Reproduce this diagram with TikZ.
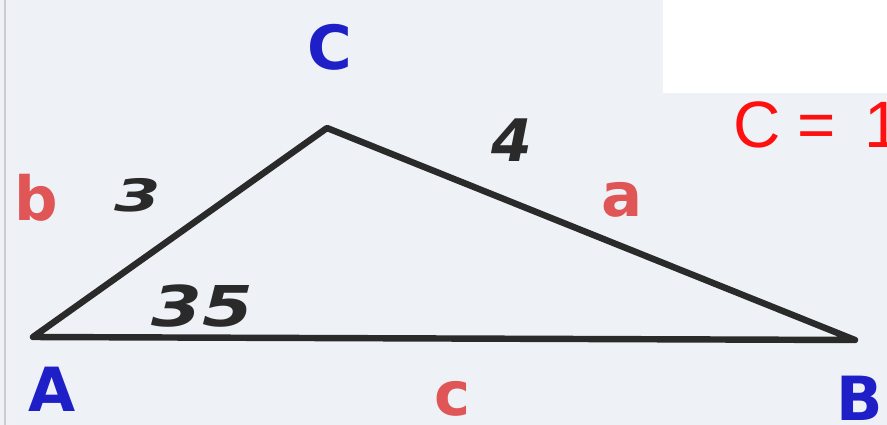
\documentclass[tikz,border=0pt]{standalone}
\usepackage{fontspec}
\setmainfont{DejaVu Sans}
\newfontfamily\handfont{Liberation Sans}
\definecolor{bgc}{HTML}{EEF2F7}
\definecolor{vblue}{HTML}{1F1FC8}
\definecolor{sred}{HTML}{E05555}
\definecolor{ink}{HTML}{2A2A2A}
\definecolor{pen}{HTML}{FF1010}
\begin{document}
\begin{tikzpicture}[x=0.03cm,y=-0.03cm,
  vertexlbl/.style={text=vblue,font=\fontsize{52}{52}\selectfont\bfseries,inner sep=0pt},
  sidelbl/.style={text=sred,font=\fontsize{52}{52}\selectfont\bfseries,inner sep=0pt},
  numlbl/.style={text=ink,inner sep=0pt},
  edge/.style={draw=ink,line width=5.5pt,line join=round,line cap=round}]
\fill[bgc] (0,0) rectangle (887,425);
\useasboundingbox (0,0) rectangle (887,425);
\fill[white] (663,0) rectangle (887,93);
\draw[gray!40,line width=1pt] (5,0) -- (5,425);
\coordinate (A) at (33,337);
\coordinate (C) at (327,128);
\coordinate (B) at (855,340);
\draw[edge] (A) -- (C) -- (B) -- cycle;
\node[vertexlbl] (lC) at (330,47) {C};
\node[vertexlbl] (lA) at (52,389) {A};
\node[vertexlbl] (lB) at (860,398) {B};
\node[sidelbl] (lb) at (36,198) {b};
\node[sidelbl] (la) at (622,200) {a};
\node[sidelbl] (lc) at (453,399) {c};
\node[numlbl,xscale=1.5,font=\fontsize{38}{38}\selectfont\bfseries\itshape] (n3) at (138,195) {3};
\node[numlbl,font=\fontsize{50}{50}\selectfont\bfseries\itshape] (n4) at (512,140) {4};
\node[numlbl,xscale=1.3,font=\fontsize{48}{48}\selectfont\bfseries\itshape] (n35) at (202,306) {35};
\node[anchor=base west,text=pen,inner sep=0pt,font=\handfont\fontsize{56}{56}\selectfont] (eq) at (733,148) {C\hspace{0.25em}=\hspace{0.45em}1};
\end{tikzpicture}
\end{document}
